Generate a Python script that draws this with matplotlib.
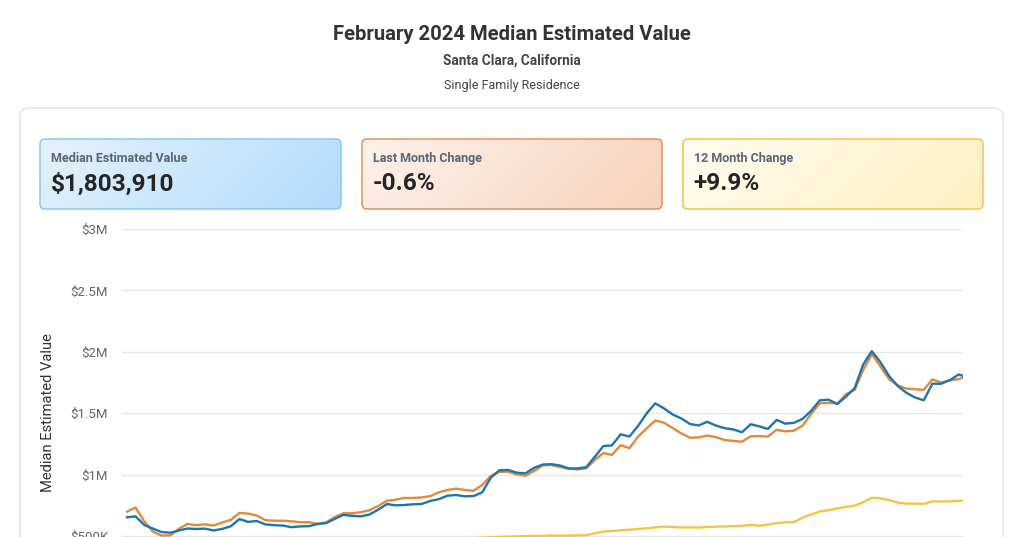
import numpy as np
import pandas as pd
import matplotlib
matplotlib.use("Agg")
import matplotlib.pyplot as plt
from matplotlib.patches import FancyBboxPatch
from matplotlib.colors import to_rgb

plt.rcParams['font.family'] = ['Roboto', 'DejaVu Sans']

# ---------------- data (values in $ millions) ----------------
month_idx = list(range(0, 193, 2)) + [193]
dates = pd.date_range('2008-01-01', periods=194, freq='MS')[month_idx]

city_values = [
    0.652, 0.660, 0.590, 0.560, 0.532, 0.527, 0.545, 0.561, 0.557, 0.560,
    0.545, 0.558, 0.580, 0.638, 0.615, 0.622, 0.594, 0.588, 0.585, 0.572,
    0.578, 0.580, 0.597, 0.605, 0.640, 0.672, 0.664, 0.660, 0.675, 0.715,
    0.760, 0.750, 0.752, 0.758, 0.761, 0.785, 0.800, 0.828, 0.834, 0.823,
    0.825, 0.855, 0.975, 1.035, 1.038, 1.016, 1.010, 1.055, 1.082, 1.085,
    1.074, 1.050, 1.050, 1.060, 1.145, 1.232, 1.238, 1.328, 1.310, 1.397,
    1.500, 1.580, 1.540, 1.490, 1.457, 1.412, 1.400, 1.430, 1.400, 1.378,
    1.368, 1.345, 1.410, 1.393, 1.372, 1.445, 1.415, 1.422, 1.455, 1.520,
    1.605, 1.610, 1.575, 1.635, 1.705, 1.895, 2.005, 1.915, 1.800, 1.720,
    1.665, 1.628, 1.605, 1.740, 1.740, 1.770, 1.815, 1.804,
]
county_values = [
    0.698, 0.732, 0.620, 0.535, 0.503, 0.505, 0.560, 0.598, 0.588, 0.595,
    0.585, 0.610, 0.632, 0.688, 0.682, 0.667, 0.628, 0.625, 0.624, 0.620,
    0.612, 0.613, 0.600, 0.612, 0.655, 0.685, 0.685, 0.694, 0.710, 0.745,
    0.787, 0.795, 0.810, 0.810, 0.814, 0.825, 0.856, 0.874, 0.886, 0.875,
    0.868, 0.915, 0.990, 1.022, 1.024, 1.002, 0.990, 1.030, 1.075, 1.078,
    1.062, 1.048, 1.042, 1.051, 1.120, 1.175, 1.160, 1.240, 1.215, 1.310,
    1.378, 1.440, 1.423, 1.380, 1.335, 1.300, 1.303, 1.318, 1.305, 1.282,
    1.274, 1.268, 1.312, 1.314, 1.309, 1.365, 1.352, 1.358, 1.400, 1.495,
    1.580, 1.585, 1.578, 1.655, 1.690, 1.850, 1.980, 1.880, 1.775, 1.725,
    1.700, 1.695, 1.690, 1.775, 1.750, 1.768, 1.778, 1.789,
]
state_values = [
    0.420, 0.410, 0.380, 0.340, 0.310, 0.295, 0.290, 0.300, 0.300, 0.300,
    0.295, 0.290, 0.285, 0.290, 0.290, 0.290, 0.285, 0.280, 0.275, 0.275,
    0.285, 0.300, 0.320, 0.340, 0.365, 0.385, 0.400, 0.410, 0.420, 0.435,
    0.445, 0.450, 0.455, 0.462, 0.468, 0.470, 0.472, 0.476, 0.478, 0.480,
    0.482, 0.486, 0.490, 0.493, 0.495, 0.497, 0.499, 0.501, 0.502, 0.505,
    0.503, 0.504, 0.505, 0.507, 0.522, 0.536, 0.541, 0.546, 0.551, 0.557,
    0.563, 0.570, 0.576, 0.573, 0.570, 0.570, 0.570, 0.573, 0.576, 0.578,
    0.580, 0.583, 0.590, 0.584, 0.593, 0.605, 0.611, 0.613, 0.650, 0.675,
    0.700, 0.710, 0.724, 0.737, 0.747, 0.775, 0.812, 0.806, 0.792, 0.772,
    0.764, 0.764, 0.762, 0.782, 0.781, 0.782, 0.786, 0.788,
]

y_ticks = [0, 0.5, 1.0, 1.5, 2.0, 2.5, 3.0]
y_tick_labels = ['$0', '$500K', '$1M', '$1.5M', '$2M', '$2.5M', '$3M']

card_titles = ['Median Estimated Value', 'Last Month Change', '12 Month Change']
card_values = ['$1,803,910', '-0.6%', '+9.9%']

# ---------------- figure ----------------
W, H = 1024, 537
fig = plt.figure(figsize=(W / 100, H / 100), dpi=100)
fig.patch.set_facecolor('white')

bg = fig.add_axes([0, 0, 1, 1], zorder=0)
bg.set_xlim(0, W)
bg.set_ylim(H, 0)
bg.axis('off')

# outer panel
panel = FancyBboxPatch((20, 108), 983, 520, boxstyle="round,pad=0,rounding_size=9",
                       fc='white', ec='#e2e8ee', lw=1.2, zorder=0.5)
bg.add_patch(panel)

# titles
bg.text(512, 35, 'February 2024 Median Estimated Value', ha='center', va='center',
        fontsize=14.6, fontweight='bold', color='#333333')
bg.text(512, 61, 'Santa Clara, California', ha='center', va='center',
        fontsize=9.8, fontweight='bold', color='#444444')
bg.text(512, 85, 'Single Family Residence', ha='center', va='center',
        fontsize=9, color='#444444')


def card(x0, y0, w, h, c1, c2, edge, title, value):
    c1 = np.array(to_rgb(c1))
    c2 = np.array(to_rgb(c2))
    nx, ny = 240, 60
    X, Y = np.meshgrid(np.linspace(0, 1, nx), np.linspace(0, 1, ny))
    t = (X * w + Y * h) / (w + h)
    img = c1 * (1 - t)[..., None] + c2 * t[..., None]
    patch = FancyBboxPatch((x0, y0), w, h, boxstyle="round,pad=0,rounding_size=5",
                           fc='none', ec=edge, lw=1.1, zorder=2)
    bg.add_patch(patch)
    im = bg.imshow(img, extent=(x0, x0 + w, y0 + h, y0), origin='upper',
                   aspect='auto', zorder=1, interpolation='bilinear')
    im.set_clip_path(patch)
    bg.text(x0 + 11, y0 + 19.5, title, ha='left', va='center', fontsize=9,
            fontweight='semibold', color='#5b6577', zorder=3)
    bg.text(x0 + 10.5, y0 + 45, value, ha='left', va='center', fontsize=17.6,
            fontweight='bold', color='#252525', zorder=3)


card(40, 139, 301, 70, '#e4f2fd', '#b2dbfb', '#8ec7ee', card_titles[0], card_values[0])
card(362, 139, 300, 70, '#fdf2eb', '#f7d2bb', '#e4915c', card_titles[1], card_values[1])
card(683, 139, 300, 70, '#fffcf0', '#fff0c2', '#efc64c', card_titles[2], card_values[2])

bg.set_xlim(0, W)
bg.set_ylim(H, 0)

# ---------------- main chart ----------------
top_px, zero_px = 229, 597.4
left_px, right_px = 122, 963
ax = fig.add_axes([left_px / W, 1 - zero_px / H, (right_px - left_px) / W,
                   (zero_px - top_px) / H], zorder=2)
ax.patch.set_alpha(0)

ax.plot(dates, state_values, color='#f6c443', lw=1.7, zorder=3)
ax.plot(dates, county_values, color='#e3893b', lw=1.7, zorder=4)
ax.plot(dates, city_values, color='#1f74b0', lw=1.7, zorder=5)

x_start = dates[0] - pd.Timedelta(days=35)
ax.set_xlim(x_start, dates[-1])
ax.set_ylim(0, 3.0)
ax.set_yticks(y_ticks)
ax.set_yticklabels(y_tick_labels)
ax.tick_params(axis='y', length=0, pad=10, labelsize=9.5, labelcolor='#666666')
ax.tick_params(axis='x', length=0, labelbottom=False)
ax.grid(axis='y', color='#e6e6e6', lw=1)
ax.set_axisbelow(True)
for s in ax.spines.values():
    s.set_visible(False)

fig.text(48 / W, 1 - 413 / H, 'Median Estimated Value', rotation=90, ha='center',
         va='center', fontsize=10.6, color='#333333')

fig.savefig('out.png', dpi=100)
